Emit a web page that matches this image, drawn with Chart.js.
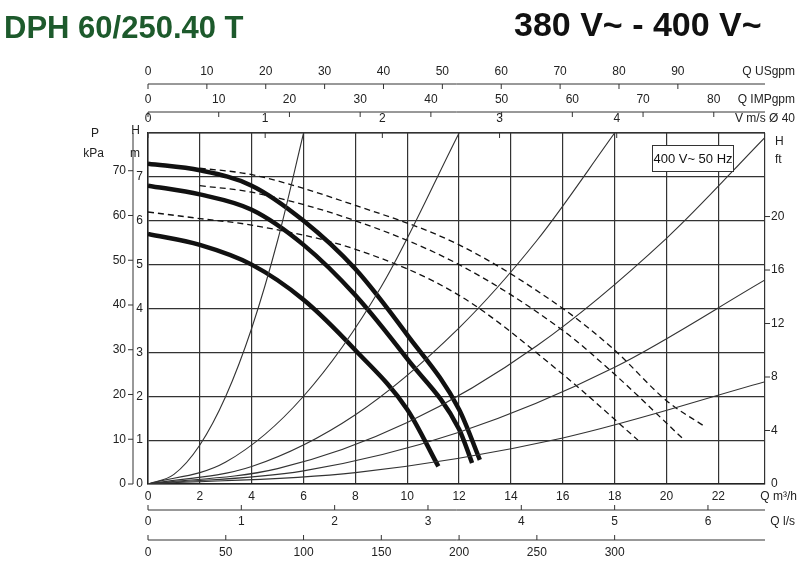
<!DOCTYPE html>
<html><head><meta charset="utf-8">
<script src="https://cdn.jsdelivr.net/npm/chart.js@4"></script>
<style>body{margin:0;background:#fff}#wrap{width:797px;height:570px;position:relative}</style>
</head><body><div id="wrap"><canvas id="pump"></canvas></div>
<script>
// pump curves, [Q m3/h, H m]
const solidHigh = [[0,7.3],[2,7.15],[4,6.8],[6,6.0],[8,4.9],[10,3.4],[12,1.7],[12.8,0.55]];
const solidMid = [[0,6.8],[2,6.6],[4,6.25],[6,5.45],[8,4.3],[10,2.85],[12,1.25],[12.5,0.48]];
const solidLow = [[0,5.7],[2,5.45],[4,5.0],[6,4.2],[8,3.05],[10,1.7],[11.2,0.4]];
const dashHigh = [[2,7.2],[4,7.05],[8,6.35],[12,5.45],[16,4.0],[18,3.05],[20,1.9],[21.5,1.3]];
const dashMid = [[2,6.8],[4,6.65],[8,6.0],[12,5.0],[16,3.5],[18,2.5],[20.6,1.05]];
const dashLow = [[0,6.2],[2,6.05],[4,5.9],[8,5.35],[12,4.3],[16,2.5],[18.9,1.0]];
// system curves
const sys1 = [[0,0],[1,0.22],[2,0.89],[3,2],[4,3.55],[5,5.55],[6,8]];
const sys2 = [[0,0],[3,0.5],[6,2],[9,4.5],[12,8]];
const sys3 = [[0,0],[4,0.4],[8,1.58],[12,3.56],[15,5.55],[18,8]];
const sys4 = [[0,0],[5,0.35],[10,1.4],[15,3.15],[20,5.6],[23.8,7.9]];
const sys5 = [[0,0],[6,0.3],[12,1.18],[18,2.66],[23.8,4.65]];
const sys6 = [[0,0],[8,0.26],[16,1.05],[23.8,2.33]];
// tick labels
const qTicks = [0,2,4,6,8,10,12,14,16,18,20,22];
const hTicks = [0,1,2,3,4,5,6,7];
const kpaTicks = [0,10,20,30,40,50,60,70];
const ftTicks = [4,8,12,16,20];
const usTicks = [0,10,20,30,40,50,60,70,80,90];
const impTicks = [0,10,20,30,40,50,60,70,80];
const velTicks = [0,1,2,3,4];
const lsTicks = [0,1,2,3,4,5,6];
const lminTicks = [0,50,100,150,200,250,300];

const pts = a => a.map(p => ({x:p[0], y:p[1]}));
const pumpSet = (d, dash) => ({data:pts(d), borderColor:'#111', borderWidth: dash?1.3:4.5,
  borderDash: dash?[6,4]:[], pointRadius:0, cubicInterpolationMode:'monotone', borderCapStyle:'butt'});
const sysSet = d => ({data:pts(d), borderColor:'#333', borderWidth:1.1, pointRadius:0, cubicInterpolationMode:'monotone'});

const F = '12px "Liberation Sans", Arial, sans-serif';
const extraAxes = {
  id:'extraAxes',
  afterDraw(chart){
    const c = chart.ctx, xs = chart.scales.x, ys = chart.scales.y, a = chart.chartArea;
    const X = v => xs.getPixelForValue(v), Y = v => ys.getPixelForValue(v);
    c.save(); c.fillStyle='#222'; c.strokeStyle='#333'; c.lineWidth=1; c.font=F;
    const hAxis = (ticks, f, lineY, labY, tickDir, name) => {
      c.beginPath(); c.moveTo(a.left,lineY); c.lineTo(a.right,lineY); c.stroke();
      c.textAlign='center'; c.textBaseline='middle';
      ticks.forEach(t=>{const px=X(t*f); c.beginPath(); c.moveTo(px,lineY); c.lineTo(px,lineY+tickDir*5); c.stroke(); c.fillText(String(t),px,labY);});
      if(name){c.textAlign='right'; c.fillText(name,a.right+30,labY);}
    };
    hAxis(usTicks,0.2271,84,72,1,'Q USgpm');
    hAxis(impTicks,0.2728,112,100,1,'Q IMPgpm');
    hAxis(velTicks,4.52,a.top,119,1,'V m/s Ø 40');
    hAxis(lsTicks,3.6,510,522,-1,'Q l/s');
    hAxis(lminTicks,0.06,540,553,-1,'');
    // main Q ticks
    c.textAlign='center';
    qTicks.forEach(t=>c.fillText(String(t),X(t),497));
    c.textAlign='right'; c.fillText('Q m³/h',a.right+32,497);
    // H
    c.textAlign='right';
    hTicks.forEach(t=>c.fillText(String(t),a.left-5,Y(t)));
    c.fillText('H',a.left-8,131); c.fillText('m',a.left-8,154);
    // kPa
    c.beginPath(); c.moveTo(133,a.top); c.lineTo(133,a.bottom); c.stroke();
    kpaTicks.forEach(t=>{const py=Y(t*0.102); c.beginPath(); c.moveTo(133,py); c.lineTo(128,py); c.stroke(); c.fillText(String(t),126,py);});
    c.fillText('P',99,134); c.fillText('kPa',104,154);
    // ft
    c.textAlign='left';
    ftTicks.forEach(t=>{const py=Y(t*0.3048); c.beginPath(); c.moveTo(a.right,py); c.lineTo(a.right+5,py); c.stroke(); c.fillText(String(t),a.right+6,py);});
    c.fillText('0',a.right+6,Y(0)); c.fillText('H',a.right+10,142); c.fillText('ft',a.right+10,160);
    // box
    c.fillStyle='#fff'; c.fillRect(652,145,82,27); c.strokeRect(652.5,145.5,81,26);
    c.fillStyle='#111'; c.textAlign='center'; c.font='13px "Liberation Sans", Arial, sans-serif';
    c.fillText('400 V~ 50 Hz',693,159);
    // titles
    c.textAlign='left'; c.textBaseline='alphabetic';
    c.fillStyle='#1d5a2c'; c.font='bold 31px "Liberation Sans Narrow", "Liberation Sans", sans-serif';
    c.fillText('DPH 60/250.40 T',4,38);
    c.fillStyle='#111'; c.font='bold 34px "Liberation Sans Narrow", "Liberation Sans", sans-serif';
    c.fillText('380 V~ - 400 V~',514,36);
    c.restore();
  }
};

new Chart(document.getElementById('pump'), {
  type:'line',
  data:{datasets:[sysSet(sys1),sysSet(sys2),sysSet(sys3),sysSet(sys4),sysSet(sys5),sysSet(sys6),
    pumpSet(dashHigh,true),pumpSet(dashMid,true),pumpSet(dashLow,true),
    pumpSet(solidHigh,false),pumpSet(solidMid,false),pumpSet(solidLow,false)]},
  options:{
    responsive:true, maintainAspectRatio:false, animation:false,
    layout:{padding:{left:148,right:32,top:133,bottom:86}},
    plugins:{legend:{display:false},tooltip:{enabled:false}},
    scales:{
      x:{type:'linear',min:0,max:23.8,ticks:{display:false,stepSize:2},
         grid:{color:'#333',lineWidth:1.2,drawTicks:false},border:{color:'#222',width:1.5}},
      y:{min:0,max:8,ticks:{display:false,stepSize:1},
         grid:{color:'#333',lineWidth:1.2,drawTicks:false},border:{color:'#222',width:1.5}}
    }
  },
  plugins:[extraAxes]
});
</script></body></html>
